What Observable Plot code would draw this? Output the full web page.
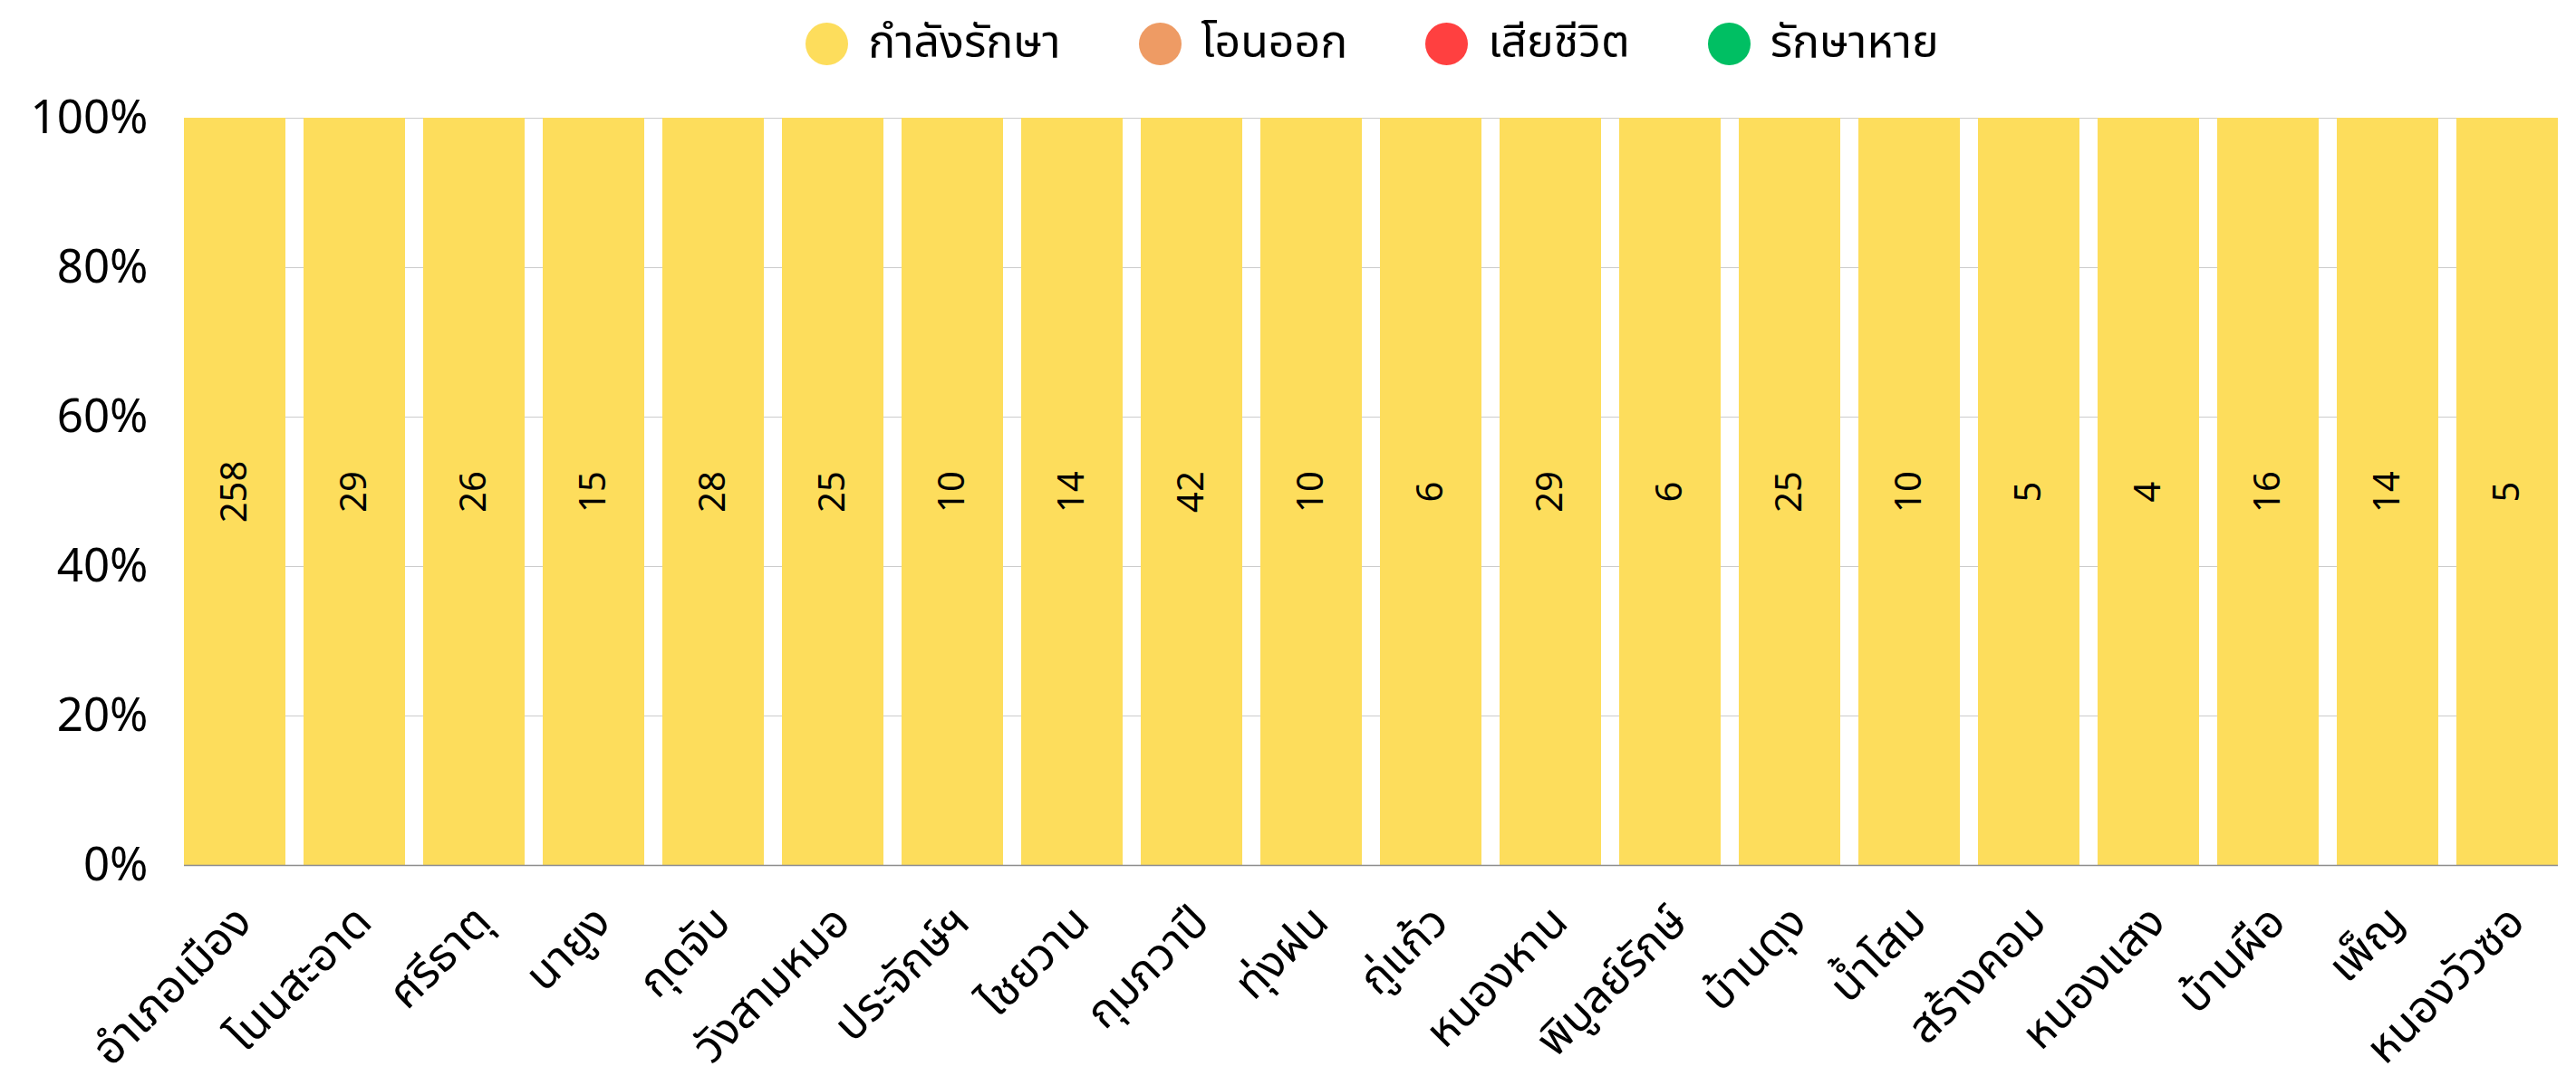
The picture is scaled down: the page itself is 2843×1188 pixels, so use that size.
<!DOCTYPE html>
<html>
<head>
<meta charset="utf-8">
<script src="https://cdn.jsdelivr.net/npm/d3@7"></script>
<script src="https://cdn.jsdelivr.net/npm/@observablehq/plot@0.6"></script>
<style>
  html, body { margin: 0; padding: 0; background: #fff; }
  body { width: 2843px; font-family: "Noto Sans", "Noto Sans Thai", Inter, sans-serif; }
  #legend { height: 88px; box-sizing: border-box; padding-left: 203px; padding-right: 17px; display: flex; justify-content: center; align-items: center; padding-top: 8px; }
  .item { display: flex; align-items: center; margin: 0 43px; }
  .sw { width: 47px; height: 47px; border-radius: 50%; margin-right: 22px; }
  .lab { font-size: 50px; color: #000; white-space: nowrap; }
</style>
</head>
<body>
<div id="legend"></div>
<div id="chart"></div>
<script>
const districts = ["อำเภอเมือง","โนนสะอาด","ศรีธาตุ","นายูง","กุดจับ","วังสามหมอ","ประจักษ์ฯ","ไชยวาน","กุมภวาปี","ทุ่งฝน","กู่แก้ว","หนองหาน","พิบูลย์รักษ์","บ้านดุง","น้ำโสม","สร้างคอม","หนองแสง","บ้านผือ","เพ็ญ","หนองวัวซอ"];
const seriesNames = ["กำลังรักษา","โอนออก","เสียชีวิต","รักษาหาย"];
const seriesColors = ["#FDDD5C","#EE9B64","#FF4040","#00BF63"];
const treating   = [258, 29, 26, 15, 28, 25, 10, 14, 42, 10, 6, 29, 6, 25, 10, 5, 4, 16, 14, 5];
const transferred = [0, 0, 0, 0, 0, 0, 0, 0, 0, 0, 0, 0, 0, 0, 0, 0, 0, 0, 0, 0];
const died        = [0, 0, 0, 0, 0, 0, 0, 0, 0, 0, 0, 0, 0, 0, 0, 0, 0, 0, 0, 0];
const recovered   = [0, 0, 0, 0, 0, 0, 0, 0, 0, 0, 0, 0, 0, 0, 0, 0, 0, 0, 0, 0];
const yTicks = [0, 0.2, 0.4, 0.6, 0.8, 1];

const seriesValues = [treating, transferred, died, recovered];
const data = [];
seriesNames.forEach((s, si) => {
  districts.forEach((d, di) => data.push({district: d, status: s, count: seriesValues[si][di]}));
});

// legend
const legend = document.getElementById("legend");
seriesNames.forEach((s, i) => {
  const it = document.createElement("div"); it.className = "item";
  const sw = document.createElement("div"); sw.className = "sw"; sw.style.background = seriesColors[i];
  const lb = document.createElement("span"); lb.className = "lab"; lb.textContent = s;
  it.append(sw, lb); legend.append(it);
});

const chart = Plot.plot({
  width: 2843,
  height: 1100,
  marginTop: 42,
  marginBottom: 233,
  marginLeft: 183,
  marginRight: 0,
  style: {fontFamily: '"Noto Sans", "Noto Sans Thai", Inter, sans-serif', background: "#fff", color: "#000", overflow: "visible"},
  x: {domain: districts, padding: 0.15, paddingInner: 0.15, paddingOuter: 0.15, label: null},
  y: {domain: [0, 1], label: null},
  color: {domain: seriesNames, range: seriesColors},
  marks: [
    Plot.gridY(yTicks, {stroke: "#cccccc", strokeOpacity: 1, strokeWidth: 1.2, insetLeft: 20, insetRight: 20}),
    Plot.barY(data, Plot.stackY({offset: "normalize", x: "district", y: "count", fill: "status", order: seriesNames})),
    Plot.ruleY([0], {stroke: "#8c8c8c", strokeWidth: 1.5, insetLeft: 20, insetRight: 20}),
    Plot.text(data.filter(d => d.count > 0), Plot.stackY({offset: "normalize", x: "district", y: "count", z: "status", order: seriesNames, text: d => String(d.count), rotate: -90, fontSize: 40, fill: "#000"})),
    Plot.axisY({ticks: yTicks, tickFormat: d3.format(".0%"), tickSize: 0, tickPadding: 20, fontSize: 51, label: null}),
    Plot.axisX({tickRotate: -45, tickSize: 0, tickPadding: 54, dx: 10, fontSize: 50, label: null})
  ]
});
document.getElementById("chart").append(chart);
</script>
</body>
</html>
